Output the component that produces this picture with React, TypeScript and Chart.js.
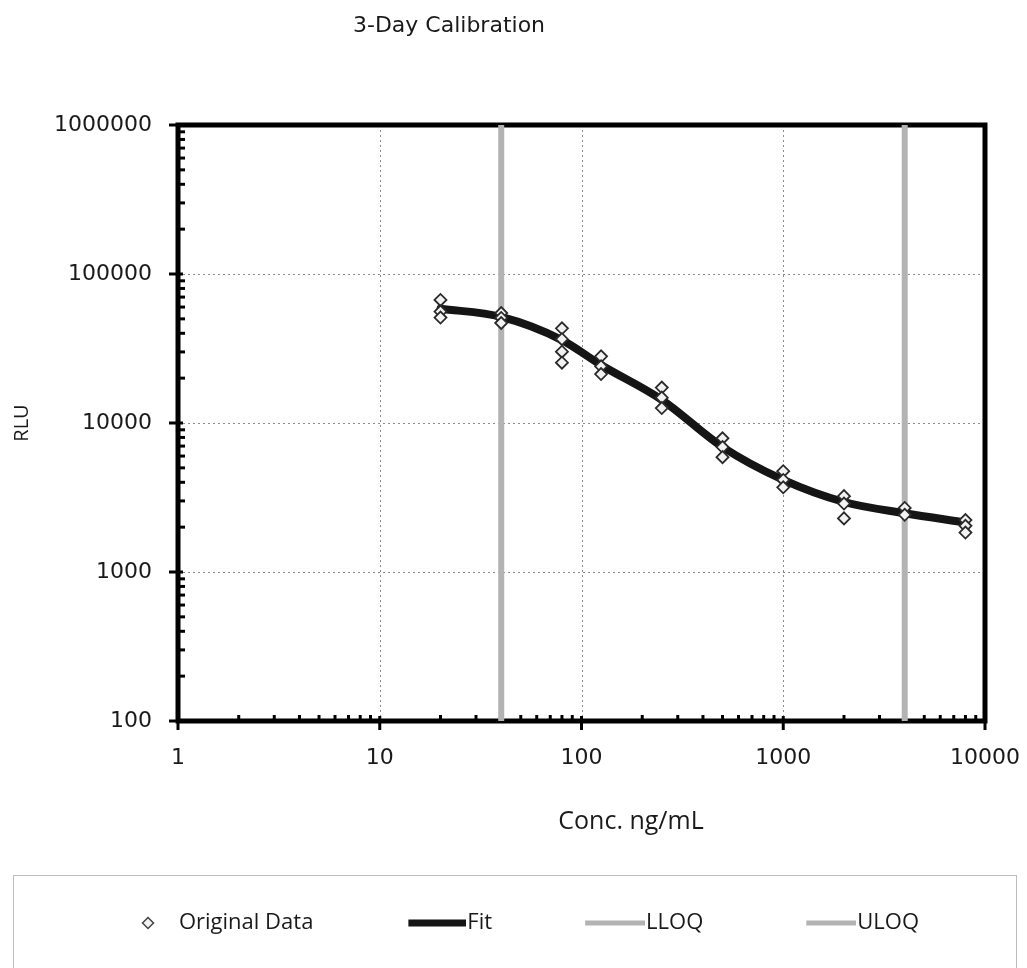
import React, { useEffect, useRef } from "react";
import { Chart, registerables } from "chart.js";

Chart.register(...registerables);

// ---------- data ----------
const chartTitle = "3-Day Calibration";
const xAxisTitle = "Conc. ng/mL";
const yAxisTitle = "RLU";
const seriesNames = ["Original Data", "Fit", "LLOQ", "ULOQ"];

const xTickLabels = ["1", "10", "100", "1000", "10000"];
const yTickLabels = ["100", "1000", "10000", "100000", "1000000"];
const xMin = 1;
const xMax = 10000;
const yMin = 100;
const yMax = 1000000;

// original replicate data (concentration, RLU)
const dataConc = [
  20, 20, 20,
  40, 40, 40,
  80, 80, 80, 80,
  125, 125, 125,
  250, 250, 250,
  500, 500, 500,
  1000, 1000, 1000,
  2000, 2000, 2000,
  4000, 4000,
  8000, 8000, 8000,
];
const dataRlu = [
  67000, 56000, 51000,
  54700, 50700, 46900,
  43200, 36500, 30100, 25400,
  28000, 24000, 21300,
  17300, 14800, 12600,
  7900, 6900, 5900,
  4750, 4150, 3700,
  3230, 2880, 2290,
  2690, 2420,
  2230, 2040, 1840,
];

// fitted curve
const fitConc = [20, 40, 80, 125, 250, 500, 1000, 2000, 4000, 8000];
const fitRlu = [58500, 51500, 36000, 24500, 14300, 6900, 4150, 2950, 2480, 2150];

const lloqConc = 40;
const uloqConc = 4000;

// ---------- legend geometry ----------
const LEGEND_BOX = 100; // legend marker box width
const LEGEND_PAD = 43;

function makeDiamondIcon(): HTMLCanvasElement {
  const c = document.createElement("canvas");
  c.width = LEGEND_BOX + 20;
  c.height = 16;
  const g = c.getContext("2d")!;
  const cx = LEGEND_BOX - 10, cy = 8, r = 5.5;
  g.beginPath();
  g.moveTo(cx, cy - r);
  g.lineTo(cx + r, cy);
  g.lineTo(cx, cy + r);
  g.lineTo(cx - r, cy);
  g.closePath();
  g.fillStyle = "#f2f2f2";
  g.fill();
  g.lineWidth = 1.5;
  g.strokeStyle = "#444";
  g.stroke();
  return c;
}

function makeLineIcon(len: number, thick: number, color: string): HTMLCanvasElement {
  const c = document.createElement("canvas");
  const w = LEGEND_BOX + 20;
  c.width = w;
  c.height = 10;
  const g = c.getContext("2d")!;
  g.fillStyle = color;
  g.fillRect(w - len, 5 - thick / 2, len, thick);
  return c;
}

const frameAndTitlePlugin = {
  id: "frameAndTitle",
  beforeDatasetsDraw(chart: any) {
    const { ctx, chartArea, scales } = chart;
    const { left, right, top, bottom } = chartArea;
    const xs = scales.x;
    const ys = scales.y;
    ctx.save();
    // dotted major grid
    ctx.strokeStyle = "#8c8c8c";
    ctx.lineWidth = 1;
    ctx.setLineDash([2, 3]);
    xTickLabels.forEach((t) => {
      const px = Math.round(xs.getPixelForValue(Number(t))) + 0.5;
      if (px > left + 4 && px < right - 4) {
        ctx.beginPath();
        ctx.moveTo(px, top);
        ctx.lineTo(px, bottom);
        ctx.stroke();
      }
    });
    yTickLabels.forEach((t) => {
      const py = Math.round(ys.getPixelForValue(Number(t))) + 0.5;
      if (py > top + 4 && py < bottom - 4) {
        ctx.beginPath();
        ctx.moveTo(left, py);
        ctx.lineTo(right, py);
        ctx.stroke();
      }
    });
    ctx.setLineDash([]);
    // minor ticks (inside) and major ticks (crossing)
    ctx.strokeStyle = "#000";
    ctx.lineWidth = 3;
    for (let k = 0; k < xTickLabels.length; k++) {
      const base = Number(xTickLabels[k]);
      const px = xs.getPixelForValue(base);
      ctx.beginPath();
      ctx.moveTo(px, bottom - 5);
      ctx.lineTo(px, bottom + 9);
      ctx.stroke();
      if (k < xTickLabels.length - 1) {
        for (let m = 2; m <= 9; m++) {
          const p = xs.getPixelForValue(base * m);
          ctx.beginPath();
          ctx.moveTo(p, bottom);
          ctx.lineTo(p, bottom - 6);
          ctx.stroke();
        }
      }
    }
    for (let k = 0; k < yTickLabels.length; k++) {
      const base = Number(yTickLabels[k]);
      const py = ys.getPixelForValue(base);
      ctx.beginPath();
      ctx.moveTo(left - 9, py);
      ctx.lineTo(left + 5, py);
      ctx.stroke();
      if (k < yTickLabels.length - 1) {
        for (let m = 2; m <= 9; m++) {
          const p = ys.getPixelForValue(base * m);
          ctx.beginPath();
          ctx.moveTo(left, p);
          ctx.lineTo(left + 7, p);
          ctx.stroke();
        }
      }
    }
    // thick frame
    ctx.lineWidth = 5;
    ctx.strokeRect(left, top, right - left, bottom - top);
    ctx.restore();
  },
  afterDraw(chart: any) {
    const { ctx } = chart;
    ctx.save();
    ctx.fillStyle = "#1a1a1a";
    ctx.textAlign = "center";
    // chart title
    ctx.font = "22px 'DejaVu Sans'";
    ctx.textBaseline = "alphabetic";
    ctx.fillText(chartTitle, 449, 32);
    // x-axis title
    ctx.font = "25px 'Open Sans'";
    ctx.textBaseline = "middle";
    ctx.fillText(xAxisTitle, 631, 822);
    // legend border
    ctx.strokeStyle = "#7a7a7a";
    ctx.lineWidth = 1;
    ctx.setLineDash([1, 1]);
    ctx.strokeRect(13.5, 875.5, 1003, 120);
    ctx.restore();
  },
};

export default function App() {
  const canvasRef = useRef<HTMLCanvasElement | null>(null);

  useEffect(() => {
    const canvas = canvasRef.current;
    if (!canvas) return;

    const icons = [
      makeDiamondIcon(),
      makeLineIcon(58, 7, "#151515"),
      makeLineIcon(60, 5, "#b3b3b3"),
      makeLineIcon(50, 5, "#b3b3b3"),
    ];

    const originalPoints = dataConc.map((c, i) => ({ x: c, y: dataRlu[i] }));
    const fitPoints = fitConc.map((c, i) => ({ x: c, y: fitRlu[i] }));

    const chart = new Chart(canvas, {
      type: "line",
      data: {
        datasets: [
          {
            label: seriesNames[0],
            data: originalPoints,
            showLine: false,
            pointStyle: "rectRot",
            pointRadius: 6,
            pointBackgroundColor: "#f2f2f2",
            pointBorderColor: "#2a2a2a",
            pointBorderWidth: 1.8,
            borderColor: "#2a2a2a",
            backgroundColor: "#f2f2f2",
            borderWidth: 1.8,
          },
          {
            label: seriesNames[1],
            data: fitPoints,
            borderColor: "#151515",
            backgroundColor: "#151515",
            borderWidth: 8,
            pointRadius: 0,
            cubicInterpolationMode: "monotone",
            borderCapStyle: "round",
          },
          {
            label: seriesNames[2],
            data: [
              { x: lloqConc, y: yMin },
              { x: lloqConc, y: yMax },
            ],
            borderColor: "#b3b3b3",
            backgroundColor: "#b3b3b3",
            borderWidth: 6,
            pointRadius: 0,
          },
          {
            label: seriesNames[3],
            data: [
              { x: uloqConc, y: yMin },
              { x: uloqConc, y: yMax },
            ],
            borderColor: "#b3b3b3",
            backgroundColor: "#b3b3b3",
            borderWidth: 6,
            pointRadius: 0,
          },
        ],
      },
      options: {
        responsive: false,
        animation: false,
        devicePixelRatio: 1,
        events: [],
        layout: { padding: { top: 125, left: 2, right: 42, bottom: 24 } },
        scales: {
          x: {
            type: "logarithmic",
            min: xMin,
            max: xMax,
            grid: { display: false, drawTicks: false },
            border: { display: false },
            afterFit: (s: any) => {
              s.height = 148;
            },
            ticks: {
              autoSkip: false,
              maxRotation: 0,
              padding: 2,
              color: "#1a1a1a",
              font: { family: "'DejaVu Sans'", size: 22, lineHeight: 70 / 22 },
              callback: (v: any) => {
                const s = String(Number(v));
                return xTickLabels.includes(s) ? s : "";
              },
            },
            title: { display: false },
          },
          y: {
            type: "logarithmic",
            min: yMin,
            max: yMax,
            grid: { display: false, drawTicks: false },
            border: { display: false },
            afterFit: (s: any) => {
              s.width = 176;
            },
            ticks: {
              autoSkip: false,
              padding: 26,
              color: "#1a1a1a",
              font: { family: "'DejaVu Sans'", size: 22 },
              callback: (v: any) => {
                const s = String(Number(v));
                return yTickLabels.includes(s) ? s : "";
              },
            },
            title: {
              display: true,
              text: yAxisTitle,
              color: "#1a1a1a",
              font: { family: "'Open Sans'", size: 20 },
              padding: { top: 8, bottom: 0 },
            },
          },
        },
        plugins: {
          title: { display: false },
          tooltip: { enabled: false },
          legend: {
            display: true,
            position: "bottom",
            labels: {
              usePointStyle: true,
              pointStyleWidth: LEGEND_BOX,
              boxHeight: 8,
              padding: LEGEND_PAD,
              color: "#1a1a1a",
              font: { family: "'Open Sans'", size: 22 },
              generateLabels: (ch: any) => {
                const items = Chart.defaults.plugins.legend.labels.generateLabels(ch);
                items.forEach((it: any, i: number) => {
                  it.pointStyle = icons[i];
                });
                return items;
              },
            },
          },
        },
      },
      plugins: [frameAndTitlePlugin],
    } as any);

    return () => {
      chart.destroy();
    };
  }, []);

  return (
    <div style={{ position: "absolute", left: 0, top: 0, width: 1027, height: 968, background: "#fff" }}>
      <canvas ref={canvasRef} width={1027} height={968} style={{ width: 1027, height: 968, display: "block" }} />
    </div>
  );
}
